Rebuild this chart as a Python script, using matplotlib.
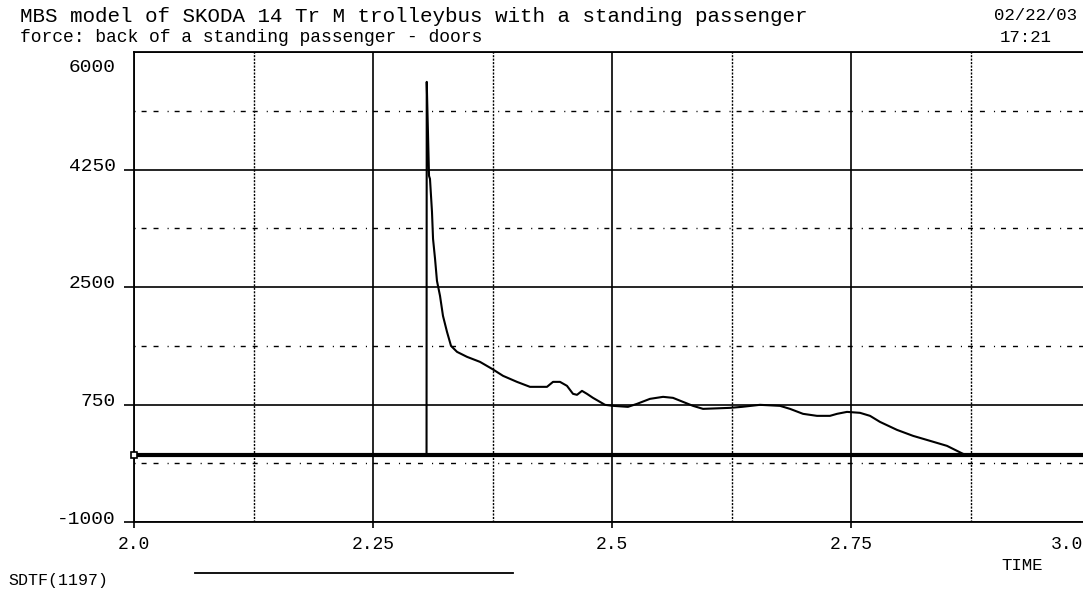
import matplotlib
matplotlib.use("Agg")
import matplotlib.pyplot as plt
from matplotlib.transforms import ScaledTranslation

# --- data -----------------------------------------------------------------
time = [2.0, 2.3060, 2.3062, 2.3075, 2.3086, 2.3096, 2.3117, 2.3128, 2.3149,
        2.3169, 2.3201, 2.3232, 2.3274, 2.3316, 2.3379, 2.3483, 2.3619,
        2.3745, 2.3860, 2.4006, 2.4142, 2.4320, 2.4383, 2.4456, 2.4529,
        2.4592, 2.4634, 2.4686, 2.4738, 2.4801, 2.4874, 2.4927, 2.5010,
        2.5167, 2.5262, 2.5397, 2.5534, 2.5638, 2.5743, 2.5847, 2.5952,
        2.6234, 2.6360, 2.6548, 2.6757, 2.6862, 2.6998, 2.7144, 2.7280,
        2.7354, 2.7458, 2.7594, 2.7699, 2.7803, 2.7981, 2.8149, 2.8326,
        2.8504, 2.8672, 2.8713, 3.0]
force = [0, 0, 5555, 4800, 4155, 4111, 3619, 3217, 2919,
         2592, 2368, 2070, 1832, 1623, 1534, 1460, 1385,
         1281, 1177, 1087, 1013, 1013, 1087, 1087, 1028,
         909, 894, 953, 909, 849, 789, 745, 730,
         715, 760, 834, 864, 849, 789, 730, 685,
         700, 715, 745, 730, 685, 611, 581, 581,
         611, 640, 626, 581, 491, 372, 283, 209,
         134, 15, 0, 0]

x_ticks = [2.0, 2.25, 2.5, 2.75, 3.0]
x_tick_labels = ["2.0", "2.25", "2.5", "2.75", "3.0"]
x_minor = [2.125, 2.375, 2.625, 2.875]
y_ticks = [-1000, 750, 2500, 4250, 6000]
y_tick_labels = ["-1000", "750", "2500", "4250", "6000"]
y_minor = [-125, 1625, 3375, 5125]

title_line1 = "MBS model of SKODA 14 Tr M trolleybus with a standing passenger"
title_line2 = "force: back of a standing passenger - doors"
date_text = "02/22/03"
time_text = "17:21"
x_label = "TIME"
series_name = "SDTF(1197)"

# --- figure ---------------------------------------------------------------
plt.rcParams["font.family"] = ["Liberation Mono", "DejaVu Sans Mono"]
plt.rcParams["lines.scale_dashes"] = False

W, H = 1083, 598
fig = plt.figure(figsize=(W / 100, H / 100), dpi=100)
fig.patch.set_facecolor("white")

left, right, top, bottom = 134, 1090, 52, 522
ax = fig.add_axes([left / W, 1 - bottom / H, (right - left) / W, (bottom - top) / H])
ax.set_xlim(2.0, 3.0)
ax.set_ylim(-1000, 6000)

for s in ax.spines.values():
    s.set_linewidth(1.3)
    s.set_color("black")

# grid
for xv in x_ticks:
    ax.axvline(xv, color="black", lw=1.2, zorder=1)
for yv in y_ticks:
    ax.axhline(yv, color="black", lw=1.2, zorder=1)
for xv in x_minor:
    ax.axvline(xv, color="black", lw=1.0, linestyle=(0, (1.5, 1.0)), zorder=1)
for yv in y_minor:
    ax.axhline(yv, color="black", lw=1.0,
               linestyle=(0, (0.8, 4.3, 3.6, 5.0, 3.6, 6.5)), zorder=1)

# zero level and the force curve
ax.axhline(0, color="black", lw=3.0, zorder=2)
ax.plot(time, force, color="black", lw=1.5, zorder=3)
ax.plot(time[0], force[0], marker="s", ms=4.5, mfc="white", mec="black",
        mew=1.2, clip_on=False, zorder=4)

# ticks
ax.set_xticks(x_ticks)
ax.set_xticklabels(x_tick_labels)
ax.set_yticks(y_ticks)
ax.set_yticklabels(y_tick_labels)
ax.tick_params(axis="x", direction="out", length=4, width=1.2, pad=6,
               labelsize=13)
ax.tick_params(axis="y", direction="out", length=7, width=1.2, pad=6,
               labelsize=14)

for lab in ax.get_yticklabels():
    lab.set_verticalalignment("center")
    lab.set_transform(lab.get_transform() + ScaledTranslation(0, 0.03, fig.dpi_scale_trans))
ylabs = ax.get_yticklabels()
ylabs[-1].set_transform(ylabs[-1].get_transform() + ScaledTranslation(0, -0.18, fig.dpi_scale_trans))
ax.yaxis.get_major_ticks()[-1].tick1line.set_visible(False)

xlabs = ax.get_xticklabels()
xlabs[-1].set_horizontalalignment("right")
xlabs[-1].set_transform(xlabs[-1].get_transform() + ScaledTranslation(-0.07, 0, fig.dpi_scale_trans))

# header texts
fig.text(20 / W, 1 - 16 / H, title_line1, fontsize=15, va="center", ha="left")
fig.text(20 / W, 1 - 37 / H, title_line2, fontsize=13, va="center", ha="left")
fig.text(1077 / W, 1 - 16 / H, date_text, fontsize=12.5, va="center", ha="right")
fig.text(1000 / W, 1 - 37 / H, time_text, fontsize=12.5, va="center", ha="left")

# axis name and series key
fig.text(1022 / W, 1 - 565 / H, x_label, fontsize=12.5, va="center", ha="center")
fig.text(8 / W, 1 - 580 / H, series_name, fontsize=12, va="center", ha="left")
fig.add_artist(plt.Line2D([195 / W, 513 / W], [1 - 573 / H, 1 - 573 / H],
                          color="black", lw=1.3))

fig.savefig("out.png", dpi=100)
